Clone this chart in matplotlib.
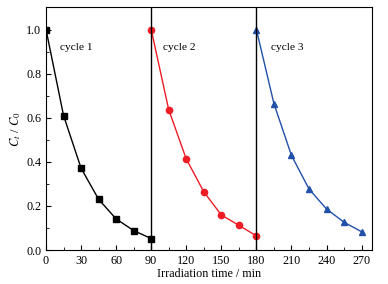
import numpy as np
import matplotlib
matplotlib.use('Agg')
import matplotlib.pyplot as plt
from matplotlib.ticker import MultipleLocator

plt.rcParams['font.family'] = ['Liberation Serif', 'DejaVu Serif']
plt.rcParams['mathtext.fontset'] = 'stix'

# data
t1 = [0, 15, 30, 45, 60, 75, 90]
c1 = [1.0, 0.61, 0.371, 0.230, 0.141, 0.088, 0.052]
t2 = [90, 105, 120, 135, 150, 165, 180]
c2 = [1.0, 0.636, 0.413, 0.264, 0.159, 0.112, 0.064]
t3 = [180, 195, 210, 225, 240, 255, 270]
c3 = [1.0, 0.664, 0.429, 0.277, 0.186, 0.126, 0.083]
cycle_labels = ['cycle 1', 'cycle 2', 'cycle 3']
label_x = [12, 100, 192.5]

fig = plt.figure(figsize=(3.88, 2.84), dpi=100)
ax = fig.add_axes([0.1186, 0.1197, 0.8404, 0.854])

ax.plot(t1, c1, color='black', marker='s', ms=4, lw=1)
ax.plot(t2, c2, color='#ee1c25', marker='o', ms=4.5, lw=1)
ax.plot(t3, c3, color='#2150a8', marker='^', ms=5, lw=1)

for xv in [90, 180]:
    ax.axvline(xv, color='black', lw=1)

for lab, xv in zip(cycle_labels, label_x):
    ax.text(xv, 0.92, lab, fontsize=8.2, va='center', ha='left')

ax.set_xlim(0, 279)
ax.set_ylim(0, 1.1)
ax.xaxis.set_major_locator(MultipleLocator(30))
ax.xaxis.set_minor_locator(MultipleLocator(15))
ax.yaxis.set_major_locator(MultipleLocator(0.2))
ax.yaxis.set_minor_locator(MultipleLocator(0.1))
ax.yaxis.set_major_formatter(matplotlib.ticker.FormatStrFormatter('%.1f'))
ax.tick_params(which='both', direction='in', labelsize=8.7)
ax.tick_params(which='major', length=3.5)
ax.tick_params(which='minor', length=2)

ax.set_xlabel('Irradiation time / min', fontsize=8.7, labelpad=1)
ax.set_ylabel(r'$C_t$ / $C_0$', fontsize=9, labelpad=2)

fig.savefig('out.png', dpi=100)
